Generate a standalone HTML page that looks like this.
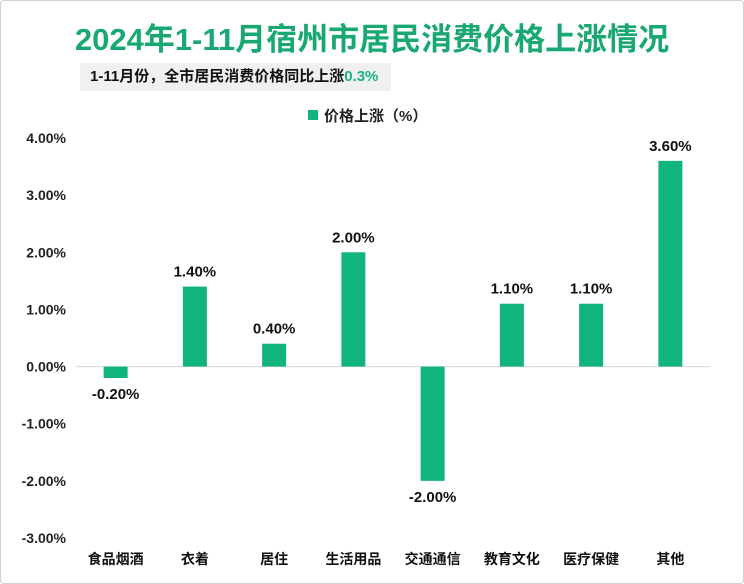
<!DOCTYPE html>
<html><head><meta charset="utf-8"><style>
body{margin:0;width:744px;height:584px;background:#fff;overflow:hidden;font-family:"Liberation Sans","Noto Sans CJK SC",sans-serif}
#frame{position:absolute;left:0;top:0;width:742px;height:582px;border:1px solid #d0d0d0;border-radius:4px}
#title{position:absolute;left:0;width:744px;top:14px;text-align:center;font-size:31px;font-weight:bold;color:#1aa872}
#sub{position:absolute;left:80px;top:63px;width:311px;height:28px;background:#f0f0f0;font-size:15px;font-weight:bold;line-height:28px;padding-left:10px;box-sizing:border-box;color:#111}
#sub span{color:#1db381}
</style></head><body>
<div id="frame"></div>
<div id="title">2024年1-11月宿州市居民消费价格上涨情况</div>
<div id="sub">1-11月份，全市居民消费价格同比上涨<span>0.3%</span></div>
<svg id="c" width="744" height="584" style="position:absolute;left:0;top:0"></svg>
<script>
const categories=["食品烟酒","衣着","居住","生活用品","交通通信","教育文化","医疗保健","其他"];
const values=[-0.2,1.4,0.4,2.0,-2.0,1.1,1.1,3.6];
const ticks=[4,3,2,1,0,-1,-2,-3];
const NS="http://www.w3.org/2000/svg";
const svg=document.getElementById('c');
const x0=76,x1=710,yTop=138,yBot=538,vMax=4,vMin=-3;
const y=v=>yTop+(vMax-v)/(vMax-vMin)*(yBot-yTop);
const step=(x1-x0)/categories.length;
const xc=i=>x0+step*(i+0.5);
function mk(t,a,txt){const e=document.createElementNS(NS,t);for(const k in a)e.setAttribute(k,a[k]);if(txt!=null)e.textContent=txt;svg.appendChild(e);return e;}
let lr=mk('rect',{x:308,y:110,width:10,height:10,fill:'#12b47e'});


let lt=mk('text',{x:324,y:121,'font-size':15,'font-weight':'bold',fill:'#222'},'价格上涨（%）');


ticks.forEach(t=>{
  const e=mk('text',{x:66,y:y(t)+5,'text-anchor':'end','font-size':14,'font-weight':'bold',fill:'#222'},t.toFixed(2)+'%');
  
  
});
let ax=mk('line',{x1:x0,x2:x1,y1:y(0),y2:y(0),stroke:'#d9d9d9','stroke-width':1});


values.forEach((v,i)=>{
  const bw=24,top=y(Math.max(v,0)),h=Math.abs(y(v)-y(0));
  const r=mk('rect',{x:xc(i)-bw/2,y:top,width:bw,height:h,fill:'#12b47e'});
  
  
  const ly=v>=0?y(v)-10:y(v)+21;
  const l=mk('text',{x:xc(i),y:ly,'text-anchor':'middle','font-size':15,'font-weight':'bold',fill:'#111'},v.toFixed(2)+'%');
  
  
  const c=mk('text',{x:xc(i),y:564,'text-anchor':'middle','font-size':14,'font-weight':'bold',fill:'#111'},categories[i]);
  
  
});
</script>
</body></html>
